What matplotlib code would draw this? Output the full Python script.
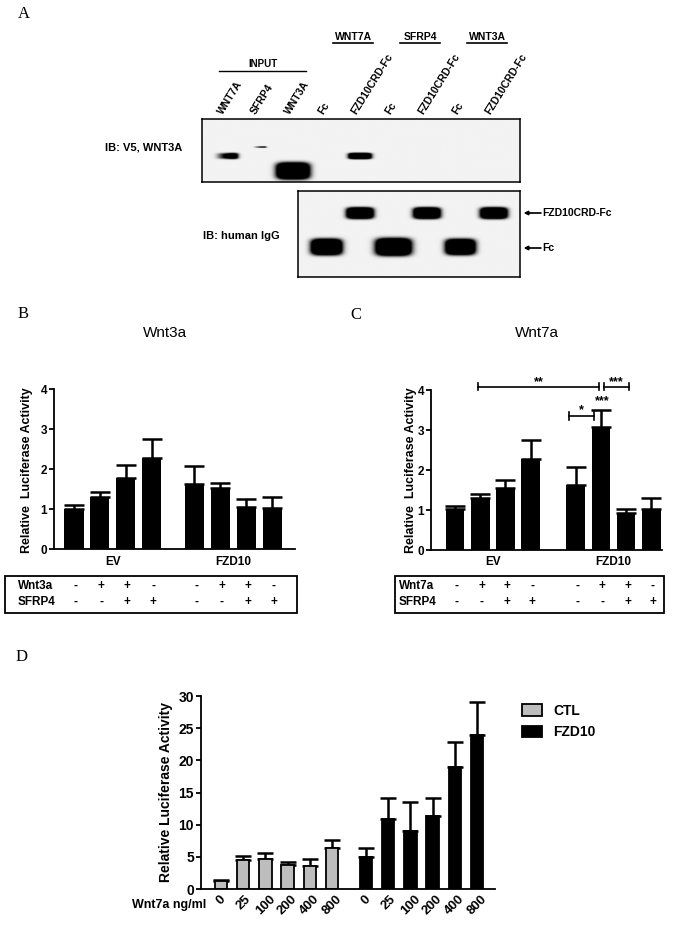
import numpy as np
import matplotlib.pyplot as plt
from matplotlib.patches import Rectangle, Patch
from matplotlib.lines import Line2D
from matplotlib.transforms import blended_transform_factory

plt.rcParams['font.family'] = ['Liberation Sans', 'DejaVu Sans']
plt.rcParams['font.weight'] = 'bold'
plt.rcParams['axes.linewidth'] = 1.3
plt.rcParams['ytick.major.width'] = 1.3
plt.rcParams['ytick.major.size'] = 3.5
plt.rcParams['ytick.major.pad'] = 1.5

# ---------------- data ----------------
# panel A: pull-down blot
lane_names = ['WNT7A', 'SFRP4', 'WNT3A', 'Fc', 'FZD10CRD-Fc',
              'Fc', 'FZD10CRD-Fc', 'Fc', 'FZD10CRD-Fc']
pull_groups = ['WNT7A', 'SFRP4', 'WNT3A']
v5_protein = ['WNT7A', 'SFRP4', 'WNT3A', None, 'WNT7A', None, None, None, None]
v5_signal = [1.0, 0.2, 3.0, 0, 1.0, 0, 0, 0, 0]
igg_fzd_signal = [0, 0, 0, 0, 1.0, 0, 1.0, 0, 1.0]
igg_fc_signal = [0, 0, 0, 1.0, 0, 1.3, 0, 0.95, 0]

# panel B / C: luciferase, EV and FZD10
conditions = ['EV', 'FZD10']
wnt_sign = ['-', '+', '+', '-']
sfrp_sign = ['-', '-', '+', '+']
b_vals = [1.01, 1.29, 1.78, 2.27, 1.63, 1.53, 1.05, 1.03]
b_err = [0.08, 0.14, 0.31, 0.47, 0.45, 0.11, 0.19, 0.27]
c_vals = [1.02, 1.30, 1.56, 2.28, 1.63, 3.08, 0.92, 1.02]
c_err = [0.09, 0.09, 0.18, 0.46, 0.44, 0.41, 0.11, 0.27]

# panel D: dose response
doses = ['0', '25', '100', '200', '400', '800']
ctl_vals = [1.2, 4.55, 4.6, 3.78, 3.52, 6.3]
ctl_err = [0.2, 0.63, 1.0, 0.36, 1.14, 1.3]
fzd_vals = [4.97, 10.9, 8.95, 11.3, 18.9, 24.0]
fzd_err = [1.43, 3.3, 4.55, 2.9, 3.9, 5.0]

W, H = 679, 930
fig = plt.figure(figsize=(W / 100, H / 100), dpi=100)


def fx(x):
    return x / W


def fy(y):
    return 1 - y / H


def px_axes(x0, y0, x1, y1):
    return fig.add_axes([fx(x0), fy(y1), (x1 - x0) / W, (y1 - y0) / H])


def ftext(x, y, s, **kw):
    fig.text(fx(x), fy(y), s, **kw)


def letter(x, y, s):
    ftext(x, y, s, family='Liberation Serif', weight='normal', fontsize=12,
          ha='center', va='center')


# ---------------- panel A ----------------
letter(24, 14, 'A')
lane0, lane_step = 226, 33.5           # pixel centre of lane 0 and lane spacing


def blot(x0, y0, x1, y1, bands):
    ax = px_axes(x0, y0, x1, y1)
    lo, hi = (x0 - lane0) / lane_step, (x1 - lane0) / lane_step
    xs = np.linspace(lo, hi, 700)
    ys = np.linspace(0, y1 - y0, 200)
    X, Y = np.meshgrid(xs, ys)
    img = np.full(X.shape, 0.05)
    for lane, yc, hw, hh, s, ramp in bands:
        dx = (X - lane) / (hw / lane_step)
        dy = (Y - yc) / hh
        g = np.exp(-(dx ** 2) ** 2 - (dy ** 2) ** 2)
        if ramp:
            g = g * np.clip(0.35 + 0.65 * (dx + 1) / 2, 0, 1) ** 2
        img += 2.6 * min(s, 1.0) * g
    ax.imshow(np.clip(img, 0, 1), cmap='gray_r', vmin=0, vmax=1, aspect='auto',
              extent=(lo, hi, y1 - y0, 0), interpolation='bilinear')
    ax.set_xlim(lo, hi)
    ax.set_ylim(y1 - y0, 0)
    ax.set_xticks([])
    ax.set_yticks([])
    for sp in ax.spines.values():
        sp.set_linewidth(1.1)
    return ax


row_y = {'WNT7A': 37, 'SFRP4': 28, 'WNT3A': 52}
top_bands = []
for i, (p, s) in enumerate(zip(v5_protein, v5_signal)):
    if s > 0:
        hw = 11 * s ** 0.35
        hh = 3 * s ** 0.9
        top_bands.append((i, row_y[p], hw, hh, s * 4 if s < 0.5 else s, i < 2))
ax_top = blot(202, 119, 520, 182, top_bands)
bot_bands = []
for i, s in enumerate(igg_fzd_signal):
    if s > 0:
        bot_bands.append((i, 22, 13 * s, 5.5, s, False))
for i, s in enumerate(igg_fc_signal):
    if s > 0:
        bot_bands.append((i, 56, 15 * s ** 0.55, 7.8 * s ** 0.3, s, False))
ax_bot = blot(298, 191, 520, 277, bot_bands)

lane_tr = blended_transform_factory(ax_top.transData, fig.transFigure)
for i, name in enumerate(lane_names):
    ax_top.text(i - 0.05, fy(116), name, transform=lane_tr, rotation=58,
                ha='left', va='bottom', rotation_mode='anchor', fontsize=7.5,
                clip_on=False)
for k, g in enumerate(pull_groups):
    c = 3.5 + 2 * k + 0.3
    ax_top.text(c, fy(37), g, transform=lane_tr, ha='center', va='center',
                fontsize=7.5, clip_on=False)
    ax_top.add_line(Line2D([c - 0.6, c + 0.6], [fy(43.5)] * 2, transform=lane_tr,
                           color='black', lw=1.2, clip_on=False))
ax_top.text(1.1, fy(64), 'INPUT', transform=lane_tr, ha='center', va='center',
            fontsize=7, clip_on=False)
ax_top.add_line(Line2D([-0.2, 2.4], [fy(71)] * 2, transform=lane_tr,
                       color='black', lw=1.0, clip_on=False))

ftext(182, 148, 'IB: V5, WNT3A', ha='right', va='center', fontsize=8)
ftext(280, 236, 'IB: human IgG', ha='right', va='center', fontsize=8)
for yy, lab in [(213, 'FZD10CRD-Fc'), (248, 'Fc')]:
    fig.add_artist(plt.annotate('', xy=(fx(524), fy(yy)), xytext=(fx(541), fy(yy)),
                                xycoords='figure fraction',
                                arrowprops=dict(arrowstyle='-|>', color='black',
                                                lw=0.9, mutation_scale=6,
                                                shrinkA=0, shrinkB=0)))
    ftext(542, yy, lab, ha='left', va='center', fontsize=7.5)


# ---------------- panels B and C ----------------
def luc_panel(box, vals, errs, offset, xlim, title, tx, agent, table, ylab_x):
    x0, y0, x1, y1 = box
    ax = px_axes(x0, y0, x1, y1)
    xpos = np.r_[np.arange(4), offset + np.arange(4)]
    ax.bar(xpos, vals, 0.74, color='black', zorder=2)
    ax.errorbar(xpos, vals, yerr=[np.zeros(8), errs], fmt='none', ecolor='black',
                elinewidth=1.8, capsize=7, capthick=1.8, zorder=1)
    ax.set_xlim(*xlim)
    ax.set_ylim(0, 4)
    ax.set_yticks([0, 1, 2, 3, 4])
    ax.tick_params(axis='y', labelsize=8.5)
    ax.set_xticks([])
    for sp in ('top', 'right'):
        ax.spines[sp].set_visible(False)
    ftext(tx, 333, title, ha='center', va='center', fontsize=11, weight='normal')
    ftext(ylab_x, 470, 'Relative  Luciferase Activity', rotation=90,
          ha='center', va='center', fontsize=9)
    tr = blended_transform_factory(ax.transData, fig.transFigure)
    for k, cond in enumerate(conditions):
        ax.text(1.5 + k * offset, fy(562), cond, transform=tr, ha='center',
                va='center', fontsize=8.5, clip_on=False)
    tb0, tb1, lx = table
    fig.add_artist(Rectangle((fx(tb0), fy(613)), (tb1 - tb0) / W, 37 / H,
                             transform=fig.transFigure, fill=False, lw=1.3,
                             edgecolor='black'))
    ftext(lx, 586, agent, ha='left', va='center', fontsize=8.5)
    ftext(lx, 602, 'SFRP4', ha='left', va='center', fontsize=8.5)
    for xp, w_s, s_s in zip(xpos, wnt_sign * 2, sfrp_sign * 2):
        ax.text(xp + 0.06, fy(586), w_s, transform=tr, ha='center', va='center',
                fontsize=8.5, clip_on=False)
        ax.text(xp + 0.06, fy(602), s_s, transform=tr, ha='center', va='center',
                fontsize=8.5, clip_on=False)
    return ax, xpos


letter(23, 314, 'B')
luc_panel((54, 389, 295, 549), b_vals, b_err, 4.65, (-0.77, 8.53), 'Wnt3a', 165,
          'Wnt3a', (5, 297, 18), 27)

letter(356, 315, 'C')
ax_c, xc = luc_panel((431, 390, 662, 550), c_vals, c_err, 4.78, (-0.95, 8.2),
                     'Wnt7a', 537, 'Wnt7a', (395, 664, 399), 411)


def bracket(ax, xa, xb, y, label, ly):
    ax.plot([xa, xb], [y, y], color='black', lw=1.2, clip_on=False)
    for xe in (xa, xb):
        ax.plot([xe, xe], [y - 0.09, y + 0.09], color='black', lw=1.2, clip_on=False)
    ax.text((xa + xb) / 2, ly, label, ha='center', va='center', fontsize=9,
            clip_on=False)


bracket(ax_c, xc[1] - 0.08, xc[5] - 0.08, 4.08, '**', 4.2)
bracket(ax_c, xc[5] + 0.12, xc[6] + 0.12, 4.08, '***', 4.2)
bracket(ax_c, xc[4] - 0.28, xc[5] - 0.28, 3.35, '*', 3.5)
ax_c.text(xc[5] + 0.05, 3.72, '***', ha='center', va='center', fontsize=9)

# ---------------- panel D ----------------
letter(22, 657, 'D')
ax_d = px_axes(201, 696, 495, 889)
xd_ctl = np.arange(len(doses))
xd_fzd = 6.53 + np.arange(len(doses))
ax_d.bar(xd_ctl, ctl_vals, 0.55, color='#bdbdbd', edgecolor='black', lw=1.3,
         zorder=2, label='CTL')
ax_d.bar(xd_fzd, fzd_vals, 0.55, color='black', edgecolor='black', lw=1.3,
         zorder=2, label='FZD10')
ax_d.errorbar(np.r_[xd_ctl, xd_fzd], ctl_vals + fzd_vals,
              yerr=[np.zeros(12), ctl_err + fzd_err], fmt='none', ecolor='black',
              elinewidth=1.8, capsize=6, capthick=1.8, zorder=1)
ax_d.set_xlim(-0.9, 12.34)
ax_d.set_ylim(0, 30)
ax_d.set_yticks(range(0, 31, 5))
ax_d.tick_params(axis='y', labelsize=10)
ax_d.set_xticks(np.r_[xd_ctl, xd_fzd])
ax_d.set_xticklabels(doses * 2, rotation=45, ha='center', va='top', fontsize=9.5)
ax_d.tick_params(axis='x', length=0, pad=3)
for sp in ('top', 'right'):
    ax_d.spines[sp].set_visible(False)
ftext(206, 905, 'Wnt7a ng/ml', ha='right', va='center', fontsize=9)
ftext(166, 792, 'Relative Luciferase Activity', rotation=90, ha='center',
      va='center', fontsize=10)
handles = [Patch(facecolor='#bdbdbd', edgecolor='black', lw=1.3, label='CTL'),
           Patch(facecolor='black', edgecolor='black', lw=1.3, label='FZD10')]
fig.legend(handles=handles, loc='upper left', bbox_to_anchor=(fx(516), fy(698)),
           frameon=False, fontsize=10, handlelength=1.5, handleheight=0.9,
           handletextpad=0.8, labelspacing=0.55, borderaxespad=0)

fig.savefig('out.png', dpi=100)
